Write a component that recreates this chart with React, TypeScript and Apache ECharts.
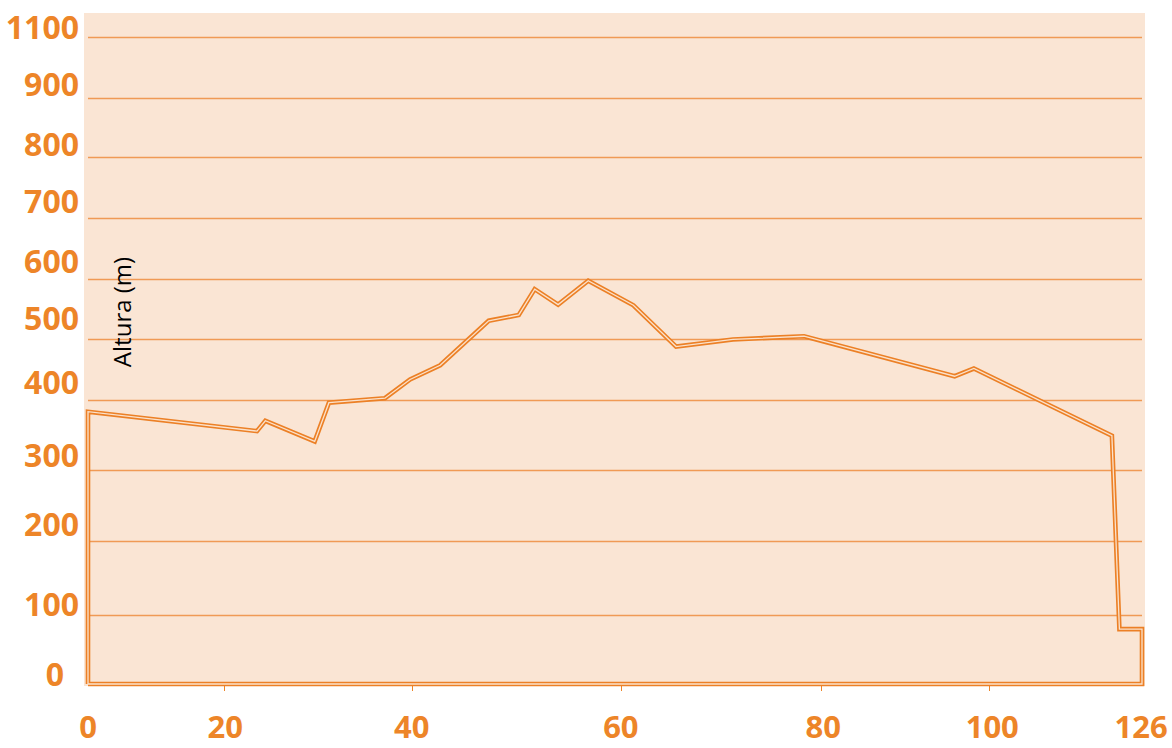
import React, { useEffect, useRef } from "react";
import * as echarts from "echarts";

// Elevation profile (distance in km, altitude in m)
const distKm = [0, 0, 20.2, 21.2, 27.1, 28.8, 35.5, 38.5, 42.1, 47.9, 51.5, 53.4, 56.2, 59.8, 65.2, 70.3, 77.1, 85.6, 103.6, 105.9, 122.4, 123.3, 126, 126, 0];
const altM = [0, 422, 392, 408, 376, 436, 443, 472, 494, 563, 572, 612, 588, 625, 587, 523, 534, 539, 477, 489, 385, 85, 85, 0, 0];

// Axis labels as printed on the original chart and where they sit on the axes
const xLabels = ["0", "20", "40", "60", "80", "100", "126"];
const xLabelValues = [0, 16.4, 38.7, 63.7, 87.9, 108.1, 125.9];
const xTickValues = [16.26, 38.73, 63.72, 87.63, 107.71];

const yLabels = ["0", "100", "200", "300", "400", "500", "600", "700", "800", "900", "1100"];
const yLabelValues = [16.3, 124, 248, 355, 469, 568, 656, 750, 838, 931, 1019];
const yGridValues = [106.9, 220.9, 331.2, 439.1, 533.6, 627.2, 721.8, 815.7, 908.5, 1002.8];

const ORANGE = "#ED8528";
const LINE = "#EC8026";
const FONT = "'Open Sans', 'DejaVu Sans', sans-serif";

function nearestLabel(v: number, values: number[], labels: string[]) {
  let best = 0;
  for (let i = 1; i < values.length; i++) {
    if (Math.abs(values[i] - v) < Math.abs(values[best] - v)) best = i;
  }
  return labels[best];
}

export default function App() {
  const ref = useRef<HTMLDivElement>(null);

  useEffect(() => {
    if (!ref.current) return;
    const chart = echarts.init(ref.current, null, { renderer: "svg" });
    const data = distKm.map((d, i) => [d, altM[i]]);

    chart.setOption({
      animation: false,
      backgroundColor: "#ffffff",
      grid: { left: 88, right: 30, top: 13, bottom: 64, containLabel: false, outerBoundsMode: "none" },
      graphic: [
        {
          type: "rect",
          left: 84,
          top: 13,
          z: -10,
          silent: true,
          shape: { width: 1061, height: 673 },
          style: { fill: "#FAE5D4" },
        },
        {
          type: "text",
          x: 121,
          y: 312,
          rotation: Math.PI / 2,
          z: 10,
          silent: true,
          style: {
            text: "Altura (m)",
            fontFamily: FONT,
            fontSize: 24,
            fill: "#000000",
            align: "center",
            verticalAlign: "middle",
          },
        },
      ],
      xAxis: {
        type: "value",
        min: 0,
        max: 126,
        offset: 14,
        axisLine: { show: false },
        axisTick: {
          show: true,
          length: 7,
          customValues: xTickValues,
          lineStyle: { color: ORANGE, width: 1 },
        },
        axisLabel: {
          customValues: xLabelValues,
          formatter: (v: number) => nearestLabel(v, xLabelValues, xLabels),
          margin: 15,
          lineHeight: 26,
          color: ORANGE,
          fontFamily: FONT,
          fontWeight: "bold",
          fontSize: 31,
        },
        splitLine: { show: false },
      },
      yAxis: {
        type: "value",
        min: 0,
        max: 1040,
        axisLine: { show: false },
        axisTick: { show: false, customValues: yGridValues },
        axisLabel: {
          customValues: yLabelValues,
          formatter: (v: number) => {
            const t = nearestLabel(v, yLabelValues, yLabels);
            return t === "0" ? "{z|0}" : t;
          },
          margin: 9,
          color: ORANGE,
          fontFamily: FONT,
          fontWeight: "bold",
          fontSize: 32,
          rich: {
            z: {
              color: ORANGE,
              fontFamily: FONT,
              fontWeight: "bold",
              fontSize: 32,
              padding: [0, 15, 0, 0],
            },
          },
        },
        splitLine: { show: true, lineStyle: { color: "#F09A55", width: 1.3 } },
      },
      series: [
        {
          type: "line",
          data,
          symbol: "none",
          clip: false,
          z: 3,
          lineStyle: { color: LINE, width: 4.6, join: "miter" },
        },
        {
          type: "line",
          data,
          symbol: "none",
          clip: false,
          z: 4,
          lineStyle: { color: "#FBE2CC", width: 1.3, join: "miter" },
        },
      ],
    });

    return () => chart.dispose();
  }, []);

  return (
    <div
      ref={ref}
      style={{ position: "fixed", left: 0, top: 0, width: 1172, height: 748 }}
    />
  );
}
